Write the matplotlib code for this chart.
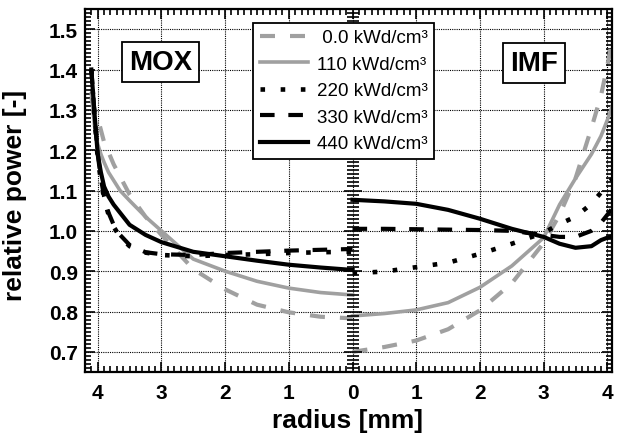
import matplotlib
matplotlib.use("Agg")
import matplotlib.pyplot as plt
from matplotlib.ticker import MultipleLocator, FuncFormatter

plt.rcParams['font.family'] = ['Liberation Sans', 'DejaVu Sans']

# radius grids [mm]
r_mox = [4.1, 4.05, 4.0, 3.95, 3.9, 3.83, 3.75, 3.65, 3.5, 3.25, 3.0, 2.5, 2.0, 1.5, 1.0, 0.5, 0.0]
r_imf = [0.0, 0.5, 1.0, 1.5, 2.0, 2.5, 3.0, 3.25, 3.5, 3.75, 3.9, 4.0, 4.1]

# relative power, MOX pellet
mox_000 = [1.33, 1.30, 1.28, 1.25, 1.22, 1.195, 1.165, 1.135, 1.09, 1.035, 0.99, 0.905, 0.855, 0.817, 0.798, 0.787, 0.783]
mox_110 = [1.34, 1.26, 1.215, 1.19, 1.17, 1.145, 1.125, 1.10, 1.075, 1.035, 1.0, 0.93, 0.90, 0.875, 0.858, 0.847, 0.841]
mox_220 = [1.40, 1.28, 1.18, 1.125, 1.08, 1.04, 1.01, 0.985, 0.962, 0.946, 0.940, 0.937, 0.940, 0.942, 0.945, 0.947, 0.948]
mox_330 = [1.40, 1.29, 1.19, 1.13, 1.085, 1.045, 1.015, 0.99, 0.965, 0.947, 0.942, 0.940, 0.945, 0.948, 0.951, 0.953, 0.955]
mox_440 = [1.40, 1.29, 1.19, 1.145, 1.11, 1.085, 1.065, 1.045, 1.015, 0.99, 0.972, 0.948, 0.937, 0.926, 0.916, 0.909, 0.903]

# relative power, IMF pellet
imf_000 = [0.70, 0.712, 0.728, 0.756, 0.803, 0.87, 0.97, 1.04, 1.13, 1.255, 1.335, 1.41, 1.49]
imf_110 = [0.789, 0.795, 0.804, 0.822, 0.86, 0.913, 0.983, 1.065, 1.13, 1.19, 1.235, 1.275, 1.32]
imf_220 = [0.895, 0.899, 0.91, 0.921, 0.943, 0.968, 0.995, 1.017, 1.035, 1.067, 1.095, 1.12, 1.13]
imf_330 = [1.005, 1.005, 1.004, 1.003, 1.002, 1.0, 0.99, 0.985, 0.985, 1.0, 1.02, 1.04, 1.06]
imf_440 = [1.077, 1.073, 1.067, 1.052, 1.03, 1.005, 0.985, 0.968, 0.958, 0.962, 0.977, 0.983, 0.988]

labels = [" 0.0 kWd/cm³", "110 kWd/cm³", "220 kWd/cm³", "330 kWd/cm³", "440 kWd/cm³"]
mox = [mox_000, mox_110, mox_220, mox_330, mox_440]
imf = [imf_000, imf_110, imf_220, imf_330, imf_440]

gray = '#a0a0a0'
styles = [
    dict(color=gray, lw=3.0, dashes=(3.6, 3.6)),
    dict(color=gray, lw=2.6, ls='-'),
    dict(color='black', lw=3.3, dashes=(1.0, 3.4)),
    dict(color='black', lw=3.0, dashes=(3.5, 3.3)),
    dict(color='black', lw=3.0, ls='-'),
]

fig = plt.figure(figsize=(6.18, 4.35), dpi=100)
ax = fig.add_axes([0.1375, 0.1425, 0.8525, 0.8345])

handles = []
for ym, yi, st, lab in zip(mox, imf, styles, labels):
    h, = ax.plot([-r for r in r_mox], ym, label=lab, **st)
    ax.plot(r_imf, yi, **st)
    handles.append(h)

ax.set_xlim(-4.2, 4.07)
ax.set_ylim(0.65, 1.55)
ax.xaxis.set_major_locator(MultipleLocator(1))
ax.xaxis.set_minor_locator(MultipleLocator(0.1))
ax.yaxis.set_major_locator(MultipleLocator(0.1))
ax.yaxis.set_minor_locator(MultipleLocator(0.01))
ax.xaxis.set_major_formatter(FuncFormatter(lambda v, p: f"{abs(v):.0f}"))
ax.yaxis.set_major_formatter(FuncFormatter(lambda v, p: f"{v:.1f}"))
ax.grid(True, which='major', color='black', ls=(0, (1, 1)), lw=0.8)
ax.tick_params(which='both', direction='in', top=True, right=True, width=1.2)
ax.tick_params(which='major', length=7, labelsize=15, pad=5)
ax.tick_params(which='minor', length=4)
ax.tick_params(axis='x', which='major', pad=8)
for t in ax.get_xticklabels() + ax.get_yticklabels():
    t.set_fontweight('bold')
for s in ax.spines.values():
    s.set_linewidth(1.6)

# central axis between the two pellets
axc = fig.add_axes(ax.get_position(), sharey=ax, frameon=False)
axc.set_xlim(ax.get_xlim())
axc.patch.set_visible(False)
axc.spines['left'].set_visible(True)
axc.spines['left'].set_position(('data', 0))
axc.spines['left'].set_linewidth(2)
axc.tick_params(axis='y', which='both', direction='inout', labelleft=False, width=1.2)
axc.tick_params(axis='y', which='major', length=13)
axc.tick_params(axis='y', which='minor', length=9)
axc.tick_params(axis='x', bottom=False, labelbottom=False)

ax.set_xlabel("radius [mm]", fontsize=19, fontweight='bold')
ax.set_ylabel("relative power [-]", fontsize=19, fontweight='bold')
ax.xaxis.set_label_coords(0.499, -0.1)
ax.yaxis.set_label_coords(-0.11, 0.49)

box = dict(boxstyle='square,pad=0.25', fc='white', ec='black', lw=1.3)
axc.text(0.144, 0.854, "MOX", transform=ax.transAxes, ha='center', va='center',
         fontsize=20, fontweight='bold', bbox=box, zorder=5)
axc.text(0.852, 0.851, "IMF", transform=ax.transAxes, ha='center', va='center',
         fontsize=20, fontweight='bold', bbox=box, zorder=5)

leg = axc.legend(handles=handles, loc='upper left', bbox_to_anchor=(0.319, 0.962),
                 fontsize=13.5, frameon=True, fancybox=False, framealpha=1,
                 edgecolor='black', handlelength=2.6, handletextpad=0.45,
                 labelspacing=0.5, borderpad=0.35, borderaxespad=0)
leg.get_frame().set_linewidth(1.3)

fig.savefig("out.png", dpi=100)
